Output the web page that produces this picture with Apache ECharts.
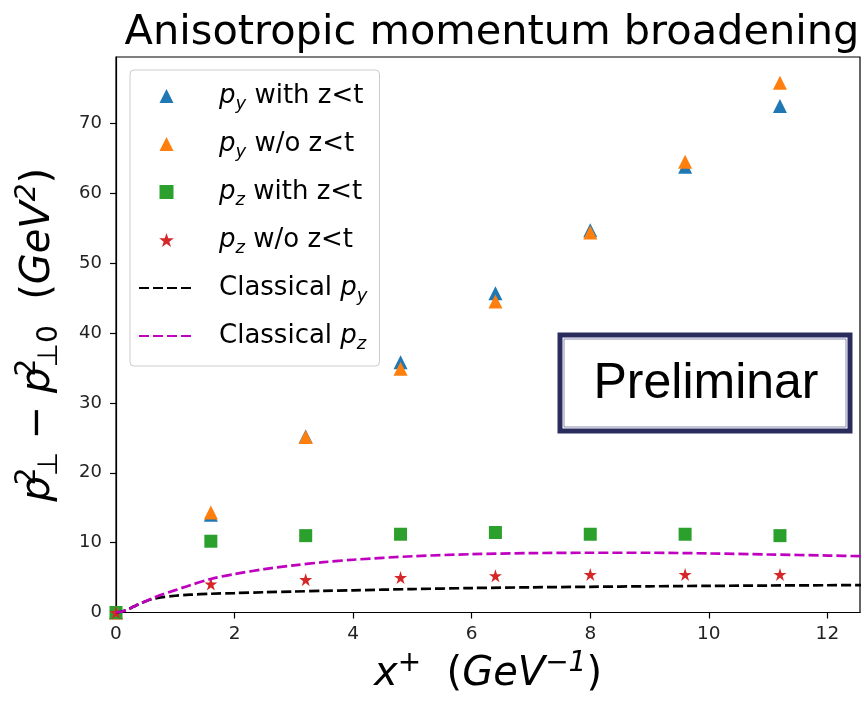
<!DOCTYPE html>
<html>
<head>
<meta charset="utf-8">
<script src="https://cdn.jsdelivr.net/npm/echarts@6/dist/echarts.min.js"></script>
<style>
  html, body { margin: 0; padding: 0; background: #fff; }
  #chart { width: 861px; height: 701px; }
</style>
</head>
<body>
<div id="chart"></div>
<script>
// ---------------- data ----------------
const xPoints = [0, 1.6, 3.2, 4.8, 6.4, 8.0, 9.6, 11.2];
const pyWith = [0, 14.0, 25.2, 35.8, 45.7, 54.7, 63.8, 72.5];
const pyWithout = [0, 14.3, 25.1, 34.9, 44.5, 54.4, 64.5, 75.8];
const pzWith = [0, 10.2, 11.0, 11.2, 11.45, 11.2, 11.2, 11.0];
const pzWithout = [0, 4.07, 4.7, 5.0, 5.25, 5.45, 5.45, 5.45];

const curveX = [0, 0.1, 0.2, 0.3, 0.4, 0.5, 0.6, 0.75, 1.0, 1.25, 1.6, 2.0, 2.5, 3.0, 3.5, 4.0, 5.0, 6.0, 7.0, 8.0, 9.0, 10.0, 11.0, 12.0, 12.6];
const classicalPy = [0, 0.15, 0.45, 0.85, 1.25, 1.6, 1.9, 2.15, 2.4, 2.55, 2.68, 2.78, 2.9, 3.0, 3.1, 3.18, 3.35, 3.5, 3.6, 3.68, 3.75, 3.81, 3.86, 3.9, 3.93];
const classicalPz = [0, 0.15, 0.45, 0.85, 1.25, 1.6, 2.0, 2.5, 3.2, 3.9, 4.8, 5.5, 6.2, 6.75, 7.2, 7.55, 8.05, 8.35, 8.5, 8.55, 8.55, 8.45, 8.3, 8.15, 8.05];

const xTicks = [0, 2, 4, 6, 8, 10, 12];
const yTicks = [0, 10, 20, 30, 40, 50, 60, 70];

const seriesNames = ['p_y with z<t', 'p_y w/o z<t', 'p_z with z<t', 'p_z w/o z<t', 'Classical p_y', 'Classical p_z'];
const legendLabels = [
  '{i|p}{sub|y}{t| with z<t}',
  '{i|p}{sub|y}{t| w/o z<t}',
  '{i|p}{sub|z}{t| with z<t}',
  '{i|p}{sub|z}{t| w/o z<t}',
  '{t|Classical }{i|p}{sub|y}',
  '{t|Classical }{i|p}{sub|z}'
];
const titleText = 'Anisotropic momentum broadening';
const xLabel = '{i|x}{sup|+}{t|  (}{i|GeV}{sup|−1}{t|)}';
const yLabel = '{i|p}{sup0|2}{sub|⊥}{t| − }{i|p}{sup0|2}{sub|⊥0}{t|  (}{i|GeV}{sup|2}{t|)}';
const stampText = 'Preliminar';

// ---------------- styles ----------------
const FONT = 'DejaVu Sans';
const C = { blue: '#1f77b4', orange: '#ff7f0e', green: '#2ca02c', red: '#d62728', black: '#000000', magenta: '#bf00bf' };
const triPath = 'path://M0,-1 L1,1 L-1,1 Z';
const sqPath = 'path://M-1,-1 L1,-1 L1,1 L-1,1 Z';
const starPath = 'path://M0,-1 L-0.2245,-0.309 L-0.9511,-0.309 L-0.3633,0.118 L-0.5878,0.809 L0,0.382 L0.5878,0.809 L0.3633,0.118 L0.9511,-0.309 L0.2245,-0.309 Z';

const pairs = (xs, ys) => xs.map((x, i) => [x, ys[i]]);

const chart = echarts.init(document.getElementById('chart'), null, { renderer: 'canvas' });

const axisNameRich = (size, L) => ({
  i: { fontFamily: FONT, fontStyle: 'italic', fontSize: size, lineHeight: L, color: '#000' },
  t: { fontFamily: FONT, fontSize: size, lineHeight: L, color: '#000' },
  sup: { fontFamily: FONT, fontStyle: 'italic', fontSize: size * 0.7, lineHeight: size * 0.7, verticalAlign: 'top', color: '#000' },
  sup0: { fontFamily: FONT, fontSize: size * 0.7, lineHeight: size * 0.7, verticalAlign: 'top', width: 0, color: '#000' },
  sub: { fontFamily: FONT, fontSize: size * 0.7, lineHeight: size * 0.7, verticalAlign: 'bottom', color: '#000' }
});

const option = {
  animation: false,
  backgroundColor: '#fff',
  title: {
    text: titleText,
    left: 487,
    textAlign: 'center',
    top: 7,
    textStyle: { fontFamily: FONT, fontSize: 41.5, fontWeight: 'normal', color: '#000' }
  },
  grid: { left: 116, right: 1, top: 57, bottom: 88.5, show: true, borderColor: '#000', borderWidth: 1.2, backgroundColor: 'transparent' },
  legend: {
    orient: 'vertical',
    left: 130,
    top: 70,
    padding: [13, 12, 13, 8],
    itemWidth: 55,
    itemHeight: 14,
    itemGap: 18,
    symbolKeepAspect: true,
    backgroundColor: 'rgba(255,255,255,0.8)',
    borderColor: '#cccccc',
    borderWidth: 1,
    borderRadius: 4,
    data: [
      { name: seriesNames[0], icon: triPath },
      { name: seriesNames[1], icon: triPath },
      { name: seriesNames[2], icon: sqPath },
      { name: seriesNames[3], icon: starPath },
      { name: seriesNames[4], itemStyle: { opacity: 0 } },
      { name: seriesNames[5], itemStyle: { opacity: 0 } }
    ],
    formatter: name => legendLabels[seriesNames.indexOf(name)],
    textStyle: {
      padding: [0, 0, 0, 20],
      rich: {
        i: { fontFamily: FONT, fontStyle: 'italic', fontSize: 26, lineHeight: 34, color: '#000' },
        t: { fontFamily: FONT, fontSize: 26, lineHeight: 34, color: '#000' },
        sub: { fontFamily: FONT, fontStyle: 'italic', fontSize: 18, lineHeight: 18, verticalAlign: 'bottom', color: '#000' }
      }
    }
  },
  xAxis: {
    type: 'value', min: 0, max: 12.55, interval: 2,
    axisLine: { show: true, lineStyle: { color: '#000', width: 1.2 } },
    axisTick: { show: true, length: 6, customValues: xTicks, lineStyle: { color: '#000', width: 1.2 } },
    axisLabel: { customValues: xTicks, fontFamily: FONT, fontSize: 18.5, color: '#222', margin: 12 },
    splitLine: { show: false },
    name: xLabel,
    nameLocation: 'middle',
    nameGap: 37,
    nameMoveOverlap: false,
    nameTextStyle: { rich: axisNameRich(40, 50) }
  },
  yAxis: {
    type: 'value', min: 0, max: 79.5, interval: 10,
    axisLine: { show: true, lineStyle: { color: '#000', width: 1.2 } },
    axisTick: { show: true, length: 6, customValues: yTicks, lineStyle: { color: '#000', width: 1.2 } },
    axisLabel: { customValues: yTicks, fontFamily: FONT, fontSize: 18, color: '#222', margin: 14 },
    splitLine: { show: false },
    name: yLabel,
    nameLocation: 'middle',
    nameRotate: 90,
    nameGap: 52,
    nameMoveOverlap: false,
    nameTextStyle: { rich: axisNameRich(40, 50) }
  },
  series: [
    { name: seriesNames[0], type: 'scatter', data: pairs(xPoints, pyWith), symbol: triPath, symbolSize: 14, itemStyle: { color: C.blue, opacity: 1 }, z: 2 },
    { name: seriesNames[1], type: 'scatter', data: pairs(xPoints, pyWithout), symbol: triPath, symbolSize: 14, itemStyle: { color: C.orange, opacity: 1 }, z: 3 },
    { name: seriesNames[2], type: 'scatter', data: pairs(xPoints, pzWith), symbol: sqPath, symbolSize: 13, itemStyle: { color: C.green, opacity: 1 }, z: 4 },
    { name: seriesNames[3], type: 'scatter', data: pairs(xPoints, pzWithout), symbol: starPath, symbolSize: 13, itemStyle: { color: C.red, opacity: 1 }, z: 5 },
    { name: seriesNames[4], type: 'line', data: pairs(curveX, classicalPy), symbol: 'none', smooth: 0.3, lineStyle: { color: C.black, width: 2.7, type: [10, 4] }, itemStyle: { color: C.black }, z: 6 },
    { name: seriesNames[5], type: 'line', data: pairs(curveX, classicalPz), symbol: 'none', smooth: 0.3, lineStyle: { color: C.magenta, width: 2.7, type: [10, 4] }, itemStyle: { color: C.magenta }, z: 7 }
  ],
  graphic: [
    {
      type: 'group', z: 100,
      children: [
        { type: 'rect', shape: { x: 560, y: 335, width: 290, height: 96 }, style: { fill: '#fff', stroke: '#2a2c5e', lineWidth: 5 } },
        { type: 'rect', shape: { x: 564, y: 339, width: 282, height: 88 }, style: { fill: 'none', stroke: '#8a8cae', lineWidth: 1 } },
        { type: 'text', style: { text: stampText, x: 706, y: 384, align: 'center', verticalAlign: 'middle', font: '50px "Liberation Sans", Arial, sans-serif', fill: '#000' } }
      ]
    }
  ]
};

chart.setOption(option);
</script>
</body>
</html>
